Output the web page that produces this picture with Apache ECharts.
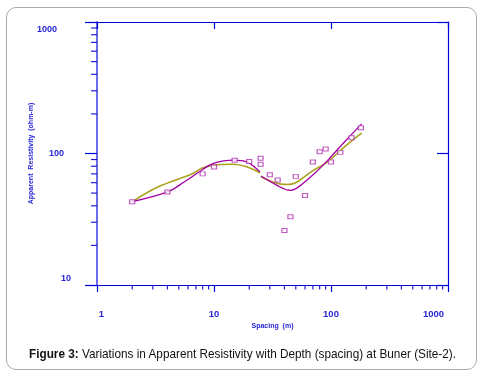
<!DOCTYPE html>
<html>
<head>
<meta charset="utf-8">
<script src="https://cdn.jsdelivr.net/npm/echarts@6/dist/echarts.min.js"></script>
<style>
  html, body { margin:0; padding:0; background:#fff; width:483px; height:378px; overflow:hidden; }
  #card { position:absolute; left:6px; top:7px; width:469px; height:361px; border:1.5px solid #ababab; border-radius:10px; box-sizing:content-box; }
  #chart { position:absolute; left:0; top:0; width:483px; height:378px; }
  #caption { position:absolute; left:29px; top:346px; white-space:nowrap; font-family:'Liberation Sans Narrow','Liberation Sans',Arial,sans-serif; font-size:13.5px; color:#111; transform-origin:0 0; }
</style>
</head>
<body>
<div id="card"></div>
<div id="chart"></div>
<div id="caption"></div>
<script>
// ---- data ----
const obsSpacing     = [2, 4, 8, 10, 15, 20, 25, 25, 30, 35, 40, 45, 50, 60, 70, 80, 90, 100, 120, 150, 180];
const obsResistivity = [43, 51, 70, 79, 89, 87, 92, 83, 69, 63, 26, 33, 67, 48, 86, 103, 108, 86, 102, 132, 157];

const magentaSeg1X = [2, 4, 5.6, 7.9, 9.9, 14.6, 19, 24.7];
const magentaSeg1Y = [43, 51, 61, 75, 84, 89, 86.5, 72.5];
const magentaSeg2X = [25.2, 34.3, 44.7, 52.5, 73, 95, 132, 183];
const magentaSeg2Y = [67.4, 57.5, 52.4, 55.5, 71, 89.8, 124, 168];

const oliveSeg1X = [2, 3.34, 6.45, 7.85, 9.86, 14.6, 19, 24.7];
const oliveSeg1Y = [43, 55.8, 69.8, 77.1, 81.6, 82.8, 79.3, 71.4];
const oliveSeg2X = [25.2, 34.3, 41.8, 49.3, 68.4, 94.8, 131.8, 183];
const oliveSeg2Y = [66.5, 59.3, 58.1, 59.6, 73.1, 87.2, 113.5, 143];

const xTickLabels = ['1', '10', '100', '1000'];
const yTickLabels = ['10', '100', '1000'];
const xMinorTicks = [2, 3, 4, 5, 6, 7, 8, 9, 20, 30, 40, 50, 60, 70, 80, 90, 200, 300, 400, 500, 600, 700, 800, 900];
const yMinorTicks = [20, 30, 40, 50, 60, 70, 80, 90, 200, 300, 400, 500, 600, 700, 800, 900];

const xAxisName = 'Spacing  (m)';
const yAxisName = 'Apparent  Resistivity  (ohm-m)';
const captionBold = 'Figure 3:';
const captionRest = ' Variations in Apparent Resistivity with Depth (spacing) at Buner (Site-2).';
// --------------------------------------

const X_MIN = 1, X_MAX = 1000, Y_MIN = 10, Y_MAX = 1000;
const blue = '#0000d8';
const labelBlue = '#2626d6';

function pairs(xs, ys) { return xs.map((x, i) => [x, ys[i]]); }

const chart = echarts.init(document.getElementById('chart'), null, { renderer: 'canvas' });

const lineBase = { type: 'line', showSymbol: false, smooth: 0.35, silent: true, clip: false, xAxisIndex: 0, yAxisIndex: 0 };

const option = {
  animation: false,
  grid: { left: 97, top: 22, right: 35, bottom: 93 },
  xAxis: [
    {
      type: 'log', min: X_MIN, max: X_MAX, position: 'bottom',
      name: xAxisName, nameLocation: 'middle', nameGap: 38, nameMoveOverlap: false,
      nameTextStyle: { color: labelBlue, fontSize: 7, fontWeight: 'bold', fontFamily: 'Liberation Sans' },
      axisLine: { show: true, lineStyle: { color: blue, width: 1.2 } },
      axisTick: { show: true, inside: false, length: 7, lineStyle: { color: blue, width: 1.2 } },
      splitLine: { show: false },
      axisLabel: {
        margin: 24,
        formatter: v => {
          const s = xTickLabels.find(t => Number(t) === Math.round(v)) || '';
          return '{x' + s + '|' + s + '}';
        },
        rich: {
          x1: { color: labelBlue, fontSize: 9.5, fontWeight: 'bold', fontFamily: 'Liberation Sans', padding: [0, 0, 0, 9] },
          x10: { color: labelBlue, fontSize: 9.5, fontWeight: 'bold', fontFamily: 'Liberation Sans' },
          x100: { color: labelBlue, fontSize: 9.5, fontWeight: 'bold', fontFamily: 'Liberation Sans' },
          x1000: { color: labelBlue, fontSize: 9.5, fontWeight: 'bold', fontFamily: 'Liberation Sans', padding: [0, 29, 0, 0] }
        }
      }
    },
    {
      type: 'log', min: X_MIN, max: X_MAX, position: 'top',
      axisLine: { show: true, lineStyle: { color: blue, width: 1.2 } },
      axisTick: { show: true, inside: true, length: 7, lineStyle: { color: blue, width: 1.2 } },
      axisLabel: { show: false }, splitLine: { show: false }
    }
  ],
  yAxis: [
    {
      type: 'log', min: Y_MIN, max: Y_MAX, position: 'left',
      name: yAxisName, nameLocation: 'middle', nameGap: 62, nameRotate: 90, nameMoveOverlap: false,
      nameTextStyle: { color: labelBlue, fontSize: 7, fontWeight: 'bold', fontFamily: 'Liberation Sans' },
      axisLine: { show: true, lineStyle: { color: '#6c6cec', width: 2 } },
      axisTick: { show: true, inside: false, length: 12, lineStyle: { color: blue, width: 1.2 } },
      splitLine: { show: false },
      axisLabel: {
        margin: 26,
        formatter: v => {
          const s = yTickLabels.find(t => Number(t) === Math.round(v)) || '';
          return '{y' + s + '|' + s + '}';
        },
        rich: {
          y10: { color: labelBlue, fontSize: 9, fontWeight: 'bold', fontFamily: 'Liberation Sans', padding: [0, 0, 13, 0] },
          y100: { color: labelBlue, fontSize: 9, fontWeight: 'bold', fontFamily: 'Liberation Sans', padding: [0, 7, 0, 0] },
          y1000: { color: labelBlue, fontSize: 9, fontWeight: 'bold', fontFamily: 'Liberation Sans', padding: [15, 14, 0, 0] }
        }
      }
    },
    {
      type: 'log', min: Y_MIN, max: Y_MAX, position: 'right',
      axisLine: { show: true, lineStyle: { color: blue, width: 1.2 } },
      axisTick: { show: true, inside: true, length: 11, lineStyle: { color: blue, width: 1.2 } },
      axisLabel: { show: false }, splitLine: { show: false }
    }
  ],
  series: [
    {
      type: 'custom', coordinateSystem: 'cartesian2d', silent: true, clip: false, z: 5,
      data: xMinorTicks.map(v => [v, Y_MIN]),
      renderItem: (params, api) => {
        const p = api.coord([api.value(0), api.value(1)]);
        return { type: 'line', shape: { x1: p[0], y1: p[1], x2: p[0], y2: p[1] + 4.5 }, style: { stroke: '#1e1ed4', lineWidth: 1.2 } };
      }
    },
    {
      type: 'custom', coordinateSystem: 'cartesian2d', silent: true, clip: false, z: 5,
      data: yMinorTicks.map(v => [X_MIN, v]),
      renderItem: (params, api) => {
        const p = api.coord([api.value(0), api.value(1)]);
        return { type: 'line', shape: { x1: p[0] - 6, y1: p[1], x2: p[0], y2: p[1] }, style: { stroke: '#1e1ed4', lineWidth: 1.2 } };
      }
    },
    Object.assign({}, lineBase, { data: pairs(oliveSeg1X, oliveSeg1Y), lineStyle: { color: '#aaa21c', width: 1.6 }, z: 3 }),
    Object.assign({}, lineBase, { data: pairs(oliveSeg2X, oliveSeg2Y), lineStyle: { color: '#aaa21c', width: 1.6 }, z: 3 }),
    Object.assign({}, lineBase, { data: pairs(magentaSeg1X, magentaSeg1Y), lineStyle: { color: '#a400a4', width: 1.3 }, z: 4 }),
    Object.assign({}, lineBase, { data: pairs(magentaSeg2X, magentaSeg2Y), lineStyle: { color: '#a400a4', width: 1.3 }, z: 4 }),
    {
      type: 'scatter', silent: true, z: 6,
      data: pairs(obsSpacing, obsResistivity),
      symbol: 'rect', symbolSize: [5, 4],
      itemStyle: { color: '#ffffff', borderColor: '#b030b0', borderWidth: 1.1 }
    }
  ]
};
chart.setOption(option);

// caption
const cap = document.getElementById('caption');
const b = document.createElement('b');
b.textContent = captionBold;
cap.appendChild(b);
cap.appendChild(document.createTextNode(captionRest));
const targetW = 427;
const w = cap.getBoundingClientRect().width;
if (w > 0) cap.style.transform = 'scaleX(' + (targetW / w) + ')';
</script>
</body>
</html>
